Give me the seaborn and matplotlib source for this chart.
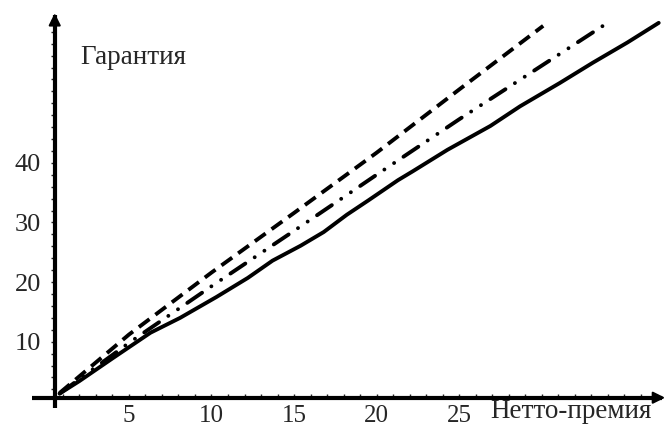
import pandas as pd
import seaborn as sns
import matplotlib.pyplot as plt

# values
solid_x = [0.8, 2.0, 4.0, 6.3, 8.1, 10.3, 12.2, 13.7, 15.4, 16.8, 18.2, 19.5, 21.3, 22.2,
           24.3, 26.9, 28.7, 31.1, 33.1, 35.2, 37.1]
solid_y = [1.3, 3.4, 7.2, 11.5, 14.0, 17.5, 20.7, 23.6, 26.1, 28.4, 31.3, 33.7, 37.1, 38.6,
           42.2, 46.2, 49.5, 53.4, 56.8, 60.2, 63.5]

dashed_x = [0.8, 5, 10, 15, 20, 25, 30.1]
dashed_y = [1.4, 11.2, 21.6, 31.6, 41.7, 52.3, 63.0]

dashdot_x = [0.8, 5, 10, 15, 20, 25, 30, 34.0]
dashdot_y = [1.3, 9.8, 19.3, 28.6, 38.0, 47.3, 56.3, 63.5]

x_ticks = [5, 10, 15, 20, 25]
y_ticks = [10, 20, 30, 40]

x_label = "Нетто-премия"
y_label = "Гарантия"

sns.set_style("white")
plt.rcParams["font.family"] = ["Liberation Serif", "DejaVu Serif"]

fig = plt.figure(figsize=(6.65, 4.32), dpi=100)
ax = fig.add_axes([0.0823, 0.0794, 0.9132, 0.8856])

lw = 2.8
sns.lineplot(x=solid_x, y=solid_y, ax=ax, color="black", lw=lw, sort=False,
             solid_capstyle="round", solid_joinstyle="round")
sns.lineplot(x=dashed_x, y=dashed_y, ax=ax, color="black", lw=lw, sort=False,
             linestyle=(0, (3.4, 1.9)), dash_capstyle="butt")
# dash-dot-dot, round caps so the dots come out round
sns.lineplot(x=dashdot_x, y=dashdot_y, ax=ax, color="black", lw=lw, sort=False,
             linestyle=(0, (4.6, 2.9, 0.01, 3.0, 0.01, 2.9)), dash_capstyle="round")

ax.set_xlim(0.5, 37.3)
ax.set_ylim(0.6, 64.8)

# Maple-style axes: drawn by hand, crossing at the lower left, with arrows
for s in ax.spines.values():
    s.set_visible(False)
ax.plot([-0.0375, 1.0], [0, 0], color="black", lw=3, transform=ax.transAxes,
        clip_on=False, solid_capstyle="butt")
ax.plot([0, 0], [-0.027, 1.0], color="black", lw=3, transform=ax.transAxes,
        clip_on=False, solid_capstyle="butt")
ax.annotate("", xy=(1.005, 0), xytext=(0.96, 0), xycoords="axes fraction",
            arrowprops=dict(arrowstyle="-|>", color="black", lw=1.5,
                            mutation_scale=18, shrinkA=0, shrinkB=0))
ax.annotate("", xy=(0, 1.005), xytext=(0, 0.95), xycoords="axes fraction",
            arrowprops=dict(arrowstyle="-|>", color="black", lw=1.5,
                            mutation_scale=18, shrinkA=0, shrinkB=0))

ax.set_xticks(x_ticks)
ax.set_xticks(range(1, 38), minor=True)
ax.set_yticks(y_ticks)
ax.set_yticks(range(2, 65, 2), minor=True)
ax.tick_params(axis="x", which="both", direction="in", length=3, width=1,
               pad=5, labelsize=18, bottom=True)
ax.tick_params(axis="y", which="both", direction="out", length=3, width=1,
               pad=7, labelsize=19, left=True)

fig.text(80 / 665, 1 - 57 / 432, y_label, ha="left", va="center", fontsize=19.5)
fig.text(490 / 665, 1 - 412 / 432, x_label, ha="left", va="center", fontsize=19.5)

plt.savefig("out.png", dpi=100)
